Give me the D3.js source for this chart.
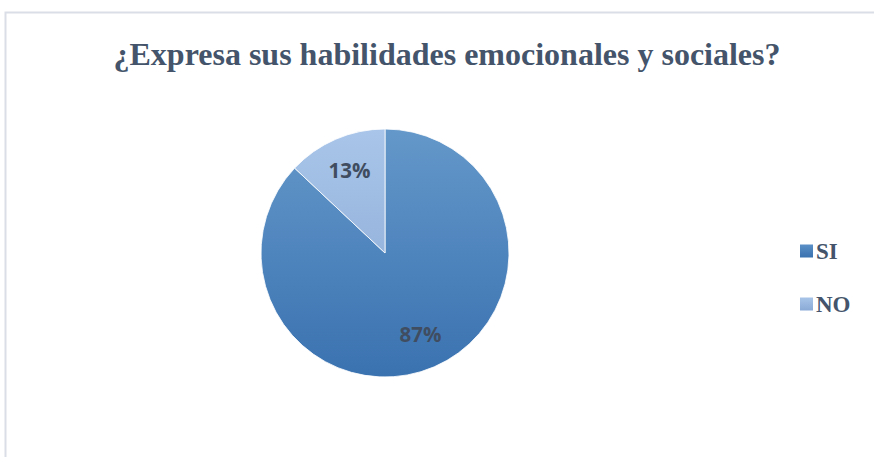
<!DOCTYPE html>
<html><head><meta charset="utf-8">
<script src="https://cdn.jsdelivr.net/npm/d3@7"></script>
<style>body{margin:0;background:#fff;}svg{display:block;}</style>
</head><body>
<svg id="c" width="874" height="457"></svg>
<script>
const title = "¿Expresa sus habilidades emocionales y sociales?";
const categories = ["SI", "NO"];
const values = [87, 13];
const labels = ["87%", "13%"];

const svg = d3.select("#c");
const W = 874, H = 457;
const cx = 385, cy = 253, r = 124;
const defs = svg.append("defs");
const grads = [
  {id:"gSI", top:"#6498ca", bottom:"#3a72b0"},
  {id:"gNO", top:"#a9c5e9", bottom:"#84a5d2"}
];
grads.forEach(g => {
  const lg = defs.append("linearGradient").attr("id", g.id)
    .attr("gradientUnits","userSpaceOnUse")
    .attr("x1",0).attr("y1",-r).attr("x2",0).attr("y2",r);
  lg.append("stop").attr("offset","0%").attr("stop-color", g.top);
  lg.append("stop").attr("offset","100%").attr("stop-color", g.bottom);
});
const legendGrads = [
  {id:"lSI", top:"#5a90c6", bottom:"#3a72b0"},
  {id:"lNO", top:"#a8c4e8", bottom:"#8aaad6"}
];
legendGrads.forEach(g => {
  const lg = defs.append("linearGradient").attr("id", g.id)
    .attr("x1",0).attr("y1",0).attr("x2",0).attr("y2",1);
  lg.append("stop").attr("offset","0%").attr("stop-color", g.top);
  lg.append("stop").attr("offset","100%").attr("stop-color", g.bottom);
});

// border
svg.append("rect").attr("x",5.5).attr("y",12.5).attr("width",W).attr("height",H)
  .attr("fill","none").attr("stroke","#dadee6").attr("stroke-width",2);

svg.append("text").attr("x",447).attr("y",65).attr("text-anchor","middle")
  .attr("font-family","'Liberation Serif','Times New Roman',serif")
  .attr("font-weight","bold").attr("font-size",32).attr("fill","#44546a")
  .text(title);

const color = d3.scaleOrdinal().domain(categories).range(["url(#gSI)","url(#gNO)"]);
const pie = d3.pie().sort(null).value(d => d.v);
const data = pie(categories.map((c,i) => ({c, v: values[i], l: labels[i]})));
const arc = d3.arc().innerRadius(0).outerRadius(r);
const g = svg.append("g").attr("transform",`translate(${cx},${cy})`);
g.selectAll("path").data(data).join("path")
  .attr("d", arc).attr("fill", d => color(d.data.c))
  .attr("stroke","#ffffff").attr("stroke-width",0.8);

const labelArc = d3.arc().innerRadius(r*0.72).outerRadius(r*0.72);
g.selectAll("text").data(data).join("text")
  .attr("transform", d => `translate(${labelArc.centroid(d)})`)
  .attr("text-anchor","middle").attr("dy","0.35em")
  .attr("font-family","'Open Sans','Liberation Sans',sans-serif")
  .attr("font-weight","bold").attr("font-size",20.5).attr("fill","#404d61")
  .text(d => d.data.l);

const lg = svg.append("g");
const ly = d3.scalePoint().domain(categories).range([251, 304]);
categories.forEach((c,i) => {
  lg.append("rect").attr("x",800).attr("y",ly(c)-6.5).attr("width",13).attr("height",13)
    .attr("fill", i===0 ? "url(#lSI)" : "url(#lNO)");
  lg.append("text").attr("x",816).attr("y",ly(c)+8)
    .attr("font-family","'Liberation Serif','Times New Roman',serif")
    .attr("font-weight","bold").attr("font-size",23).attr("fill","#44546a")
    .text(c);
});
</script>
</body></html>
